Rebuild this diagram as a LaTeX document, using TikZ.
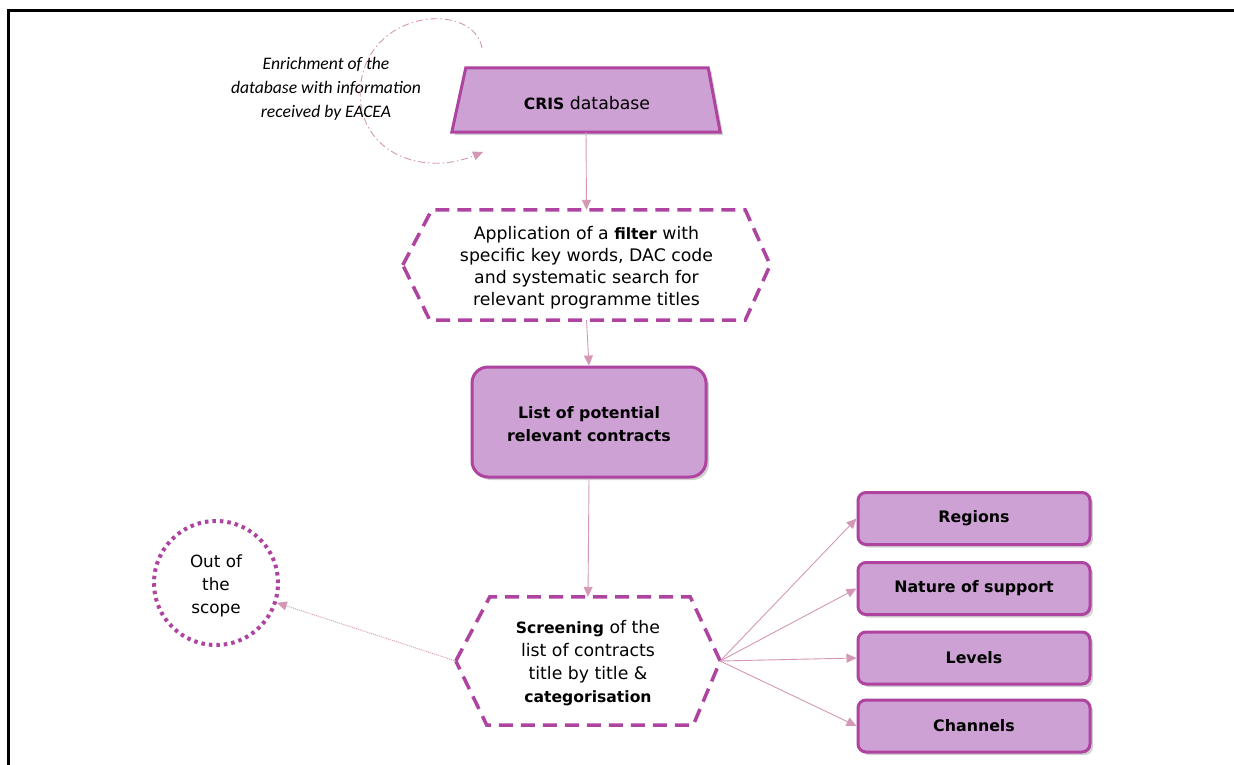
\documentclass[tikz,border=0pt]{standalone}
\usepackage{fontspec}
\setmainfont{DejaVu Sans}
\newfontfamily\itfont{Carlito}
\usetikzlibrary{arrows.meta,shadows,calc}
\definecolor{boxfill}{RGB}{205,161,212}
\definecolor{boxline}{RGB}{175,67,160}
\definecolor{arrowc}{RGB}{212,152,182}
\newcommand{\bfx}[1]{{\fontsize{15.6}{22}\selectfont\bfseries #1}}
\tikzset{
  txt/.style={font=\fontsize{17.3}{22}\selectfont, align=center, text=black},
  boldtxt/.style={font=\fontsize{15.8}{23}\selectfont\bfseries, align=center, text=black},
  bigbox/.style={boldtxt, rectangle, rounded corners=16pt, draw=boxline, line width=3pt, fill=boxfill,
     drop shadow={shadow xshift=3pt, shadow yshift=-3pt, opacity=0.35}},
  catbox/.style={boldtxt, rectangle, rounded corners=8pt, draw=boxline, line width=3pt, fill=boxfill,
     minimum width=232pt, minimum height=52pt,
     drop shadow={shadow xshift=3pt, shadow yshift=-3pt, opacity=0.35}},
  hexline/.style={draw=boxline, line width=3.5pt, dash pattern=on 14pt off 8pt},
  conn/.style={draw=arrowc, line width=0.9pt, -{Triangle[length=10pt,width=9pt]}},
  dotconn/.style={conn, dash pattern=on 1pt off 1pt},
  arcconn/.style={conn, dash pattern=on 7pt off 3pt on 1.5pt off 3pt},
  scopecirc/.style={txt, circle, draw=boxline, line width=4pt, dash pattern=on 3.5pt off 4pt, minimum size=124pt, inner sep=0pt},
  frameline/.style={draw=black, line width=3pt}
}
\begin{document}
\begin{tikzpicture}[x=1pt,y=-1pt]
\useasboundingbox (0,0) rectangle (1234,765);
\fill[white] (0,0) rectangle (1234,765);
% frame
\draw[frameline] (8,780) -- (8,11) -- (1245,11);

% CRIS database trapezoid
\node[txt, minimum width=268pt, minimum height=64pt, inner sep=0pt] (cris) at (586,100) {};
\path[fill=boxfill, drop shadow={shadow xshift=3pt, shadow yshift=-3pt, opacity=0.35}]
  (cris.south west) -- ($(cris.north west)+(14,0)$) -- ($(cris.north east)+(-12,0)$) -- (cris.south east) -- cycle;
\draw[boxline, line width=3pt, line join=miter]
  (cris.south west) -- ($(cris.north west)+(14,0)$) -- ($(cris.north east)+(-12,0)$) -- (cris.south east) -- cycle;
\node[txt] (crislabel) at ($(cris.center)+(1,3)$) {\bfx{CRIS} database};

% enrichment text
\node[txt, font=\fontsize{17.6}{24}\selectfont\itfont\itshape] (enrich) at (326,89)
  {Enrichment of the\\database with information\\received by EACEA};
\coordinate (arcS) at (482,48);
\coordinate (arcE) at (483,152);
\draw[arcconn] (arcS) .. controls (474,2) and (372,8) .. (361,82)
  .. controls (352,150) and (420,178) .. (arcE);

% filter hexagon
\node[txt, minimum width=367pt, minimum height=110pt, inner sep=0pt] (filter) at (586.5,265) {};
\node[txt] (filtertext) at ($(filter.center)+(0,3)$)
  {Application of a \bfx{filter} with\\specific key words, DAC code\\and systematic search for\\relevant programme titles};
\draw[hexline] (filter.west) -- ($(filter.north west)+(29,0)$) -- ($(filter.north east)+(-25,0)$)
  -- (filter.east) -- ($(filter.south east)+(-25,0)$) -- ($(filter.south west)+(27,0)$) -- cycle;

% list box
\node[bigbox, minimum width=234pt, minimum height=110pt] (list) at (589,422) {};
\node[boldtxt] (listtext) at ($(list.center)+(0,2)$) {List of potential\\relevant contracts};

% screening hexagon
\node[txt, minimum width=264pt, minimum height=128pt, inner sep=0pt] (screen) at (588,661) {};
\node[txt, font=\fontsize{17.3}{23}\selectfont] (screentext) at ($(screen.center)+(0,2)$)
  {\bfx{Screening} of the\\list of contracts\\title by title \&\\\bfx{categorisation}};
\draw[hexline] (screen.west) -- ($(screen.north west)+(34,0)$) -- ($(screen.north east)+(-30,0)$)
  -- (screen.east) -- ($(screen.south east)+(-27,0)$) -- ($(screen.south west)+(31,0)$) -- cycle;

% out of scope
\node[scopecirc] (scope) at (216,583) {};
\node[txt, font=\fontsize{16.8}{23}\selectfont] (scopetext) at ($(scope.center)+(0,3)$) {Out of\\the\\scope};

% category boxes
\node[catbox] (regions) at (974,518.5) {Regions};
\node[catbox] (nature) at (974,588.5) {Nature of support};
\node[catbox] (levels) at (974,658) {Levels};
\node[catbox] (channels) at (974,726) {Channels};

% connectors
\draw[conn] (cris.south) -- (filter.north);
\draw[conn] (filter.south) -- (list.north);
\draw[conn] (list.south) -- (screen.north);
\draw[dotconn] (screen.west) -- (scope);
\draw[conn] (screen.east) -- (regions.west);
\draw[conn] (screen.east) -- (nature.west);
\draw[conn] (screen.east) -- (levels.west);
\draw[conn] (screen.east) -- (channels.west);
\end{tikzpicture}
\end{document}
